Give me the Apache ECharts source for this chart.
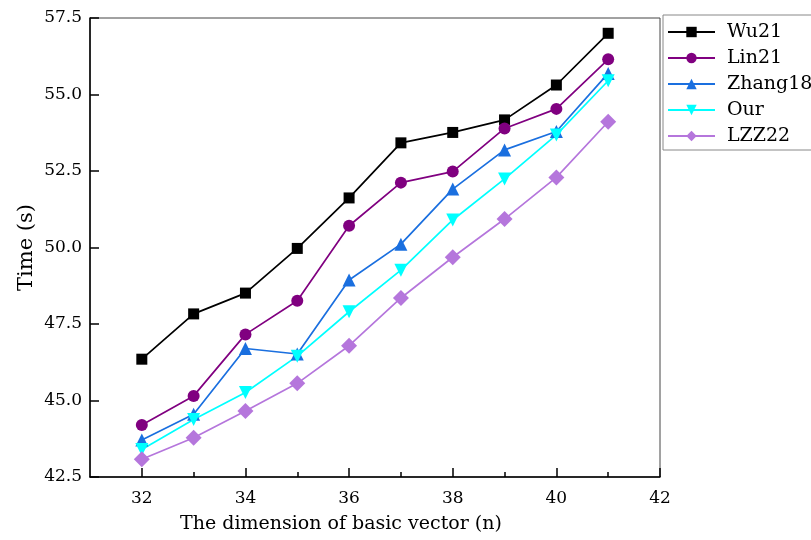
<!DOCTYPE html>
<html>
<head>
<meta charset="utf-8">
<script src="https://cdn.jsdelivr.net/npm/echarts@6/dist/echarts.min.js"></script>
<style>
  html, body { margin: 0; padding: 0; background: #fff; }
  #chart { width: 811px; height: 540px; }
</style>
</head>
<body>
<div id="chart"></div>
<script>
// dimension n
var dims = [32, 33, 34, 35, 36, 37, 38, 39, 40, 41]
// time (s) per method
var wu21 = [46.35, 47.83, 48.51, 49.97, 51.62, 53.42, 53.76, 54.17, 55.31, 57.0]
var lin21 = [44.2, 45.15, 47.16, 48.26, 50.71, 52.12, 52.48, 53.89, 54.53, 56.15]
var zhang18 = [43.71, 44.55, 46.7, 46.52, 48.94, 50.11, 51.91, 53.19, 53.79, 55.69]
var our = [43.4, 44.38, 45.26, 46.45, 47.9, 49.26, 50.9, 52.24, 53.68, 55.45]
var lzz22 = [43.08, 43.78, 44.66, 45.56, 46.79, 48.35, 49.68, 50.93, 52.29, 54.11]
// axis ticks
var xMajorTicks = [32, 34, 36, 38, 40, 42]
var xMinorTicks = [33, 35, 37, 39, 41]

var font = 'DejaVu Serif'

function pairs(ys) {
  return dims.map(function (x, i) { return [x, ys[i]] })
}

function makeSeries(name, ys, color, symbol, size, rotate) {
  return {
    name: name,
    type: 'line',
    data: pairs(ys),
    symbol: symbol,
    symbolSize: size,
    symbolRotate: rotate || 0,
    color: color,
    lineStyle: { color: color, width: 1.7 },
    itemStyle: { color: color },
    animation: false,
  }
}

var chart = echarts.init(document.getElementById('chart'))
var option = {
  backgroundColor: '#fff',
  grid: {
    left: 90,
    right: 151,
    top: 18,
    bottom: 63,
    show: true,
    borderColor: '#444',
    borderWidth: 1,
  },
  legend: {
    orient: 'vertical',
    left: 663,
    top: 15,
    padding: [7, 12, 4, 4],
    itemWidth: 47,
    itemHeight: 13,
    itemGap: 6,
    borderColor: '#888',
    borderWidth: 1,
    textStyle: {
      fontFamily: font,
      fontSize: 19,
      color: '#000',
      lineHeight: 20,
      padding: [0, 0, 0, 7],
    },
  },
  xAxis: [
    {
      type: 'value',
      min: 31,
      max: 42,
      name: 'The dimension of basic vector (n)',
      nameLocation: 'middle',
      nameGap: 38,
      nameMoveOverlap: false,
      nameTextStyle: {
        fontFamily: font,
        fontSize: 19,
        color: '#000',
        padding: [0, 68, 0, 0],
      },
      axisLine: { lineStyle: { color: '#000', width: 1.5 } },
      axisTick: {
        inside: true,
        length: 9,
        customValues: xMajorTicks,
        lineStyle: { color: '#000', width: 1.5 },
      },
      axisLabel: {
        customValues: xMajorTicks,
        margin: 13,
        fontFamily: font,
        fontSize: 17,
        color: '#000',
      },
      splitLine: { show: false },
    },
    {
      type: 'value',
      position: 'bottom',
      min: 31,
      max: 42,
      axisLine: { show: false },
      axisTick: {
        inside: true,
        length: 5,
        customValues: xMinorTicks,
        lineStyle: { color: '#000', width: 1.5 },
      },
      axisLabel: { show: false },
      splitLine: { show: false },
    },
  ],
  yAxis: {
    type: 'value',
    min: 42.5,
    max: 57.5,
    interval: 2.5,
    name: 'Time (s)',
    nameLocation: 'middle',
    nameGap: 53,
    nameMoveOverlap: false,
    nameTextStyle: {
      fontFamily: font,
      fontSize: 21,
      color: '#000',
    },
    axisLine: { show: true, lineStyle: { color: '#000', width: 1.5 } },
    axisTick: {
      inside: true,
      length: 9,
      lineStyle: { color: '#000', width: 1.5 },
    },
    axisLabel: {
      margin: 8,
      fontFamily: font,
      fontSize: 17,
      color: '#000',
      formatter: function (v) { return v.toFixed(1) },
    },
    splitLine: { show: false },
  },
  series: [
    makeSeries('Wu21', wu21, '#000000', 'rect', 11),
    makeSeries('Lin21', lin21, '#800080', 'circle', 12),
    makeSeries('Zhang18', zhang18, '#1a6fdf', 'triangle', 13),
    makeSeries('Our', our, '#00ffff', 'triangle', 13, 180),
    makeSeries('LZZ22', lzz22, '#b576dc', 'diamond', 16),
  ],
}
chart.setOption(option)
</script>
</body>
</html>
